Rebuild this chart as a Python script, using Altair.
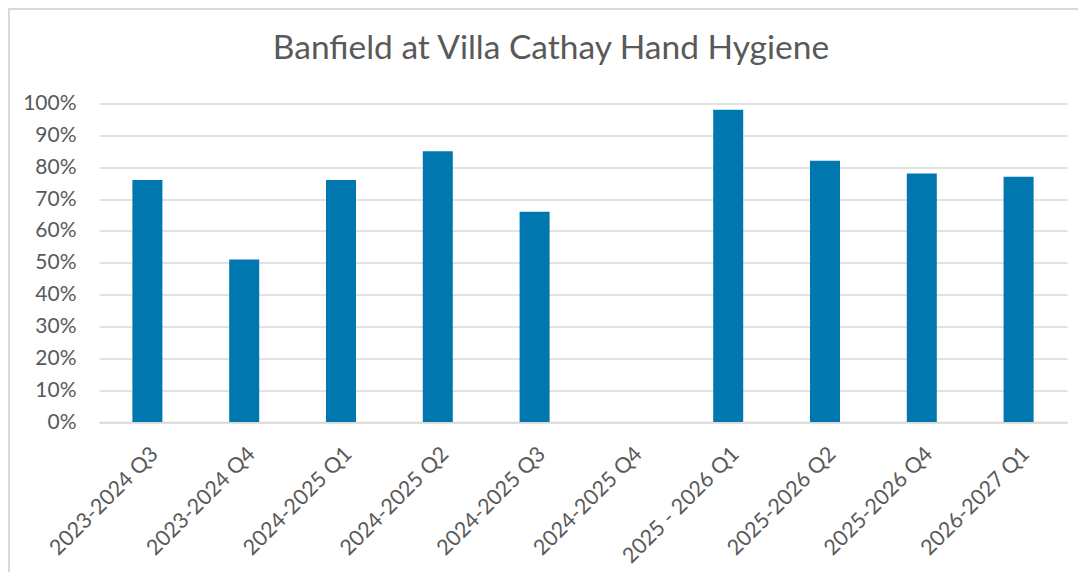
import altair as alt
import pandas as pd

title_text = "Banfield at Villa Cathay Hand Hygiene"
categories = ["2023-2024 Q3", "2023-2024 Q4", "2024-2025 Q1", "2024-2025 Q2",
              "2024-2025 Q3", "2024-2025 Q4", "2025 - 2026 Q1", "2025-2026 Q2",
              "2025-2026 Q4", "2026-2027 Q1"]
values = [0.76, 0.51, 0.76, 0.85, 0.66, None, 0.98, 0.82, 0.78, 0.77]
y_ticks = [0, 0.1, 0.2, 0.3, 0.4, 0.5, 0.6, 0.7, 0.8, 0.9, 1.0]

df = pd.DataFrame({"quarter": categories, "rate": values})

FONT = "Lato"
TEXT = "#595959"
GRID = "#d9d9d9"

bars = alt.Chart(df).mark_bar(color="#0077AF").encode(
    x=alt.X("quarter:N", sort=categories,
            scale=alt.Scale(domain=categories, paddingInner=0.69, paddingOuter=0.345),
            axis=alt.Axis(title=None, labelAngle=315, labelAlign="right",
                          labelBaseline="top", labelPadding=21, ticks=False,
                          domain=True, domainColor=GRID, domainWidth=1.5,
                          labelFont=FONT, labelFontSize=21.5, labelColor=TEXT,
                          grid=False)),
    y=alt.Y("rate:Q", scale=alt.Scale(domain=[0, 1], nice=False),
            axis=alt.Axis(title=None, format=".0%", values=y_ticks, ticks=False,
                          domain=False, grid=True, gridColor=GRID, gridWidth=1.5,
                          labelFont=FONT, labelFontSize=21, labelColor=TEXT,
                          labelPadding=23)),
)

frame = alt.Data(values=[{"t": title_text}])
left_border = alt.Chart(frame).mark_rule(color=GRID, strokeWidth=2).encode(
    x=alt.value(-90), y=alt.value(-94.5), y2=alt.value(480))
top_border = alt.Chart(frame).mark_rule(color=GRID, strokeWidth=2).encode(
    y=alt.value(-94.5), x=alt.value(-91), x2=alt.value(990))
title = alt.Chart(frame).mark_text(font=FONT, fontSize=33.5, color=TEXT,
                                   align="center", baseline="alphabetic").encode(
    text="t:N", x=alt.value(452), y=alt.value(-45))

chart = alt.layer(bars, left_border, top_border, title).properties(
    width=968, height=318.5,
    autosize=alt.AutoSizeParams(type="none"),
    padding={"left": 91, "top": 95.5, "right": 11, "bottom": 150},
).configure(background="white").configure_view(stroke=None)

chart.save("out.html", embed_options={"renderer": "svg", "actions": False})
